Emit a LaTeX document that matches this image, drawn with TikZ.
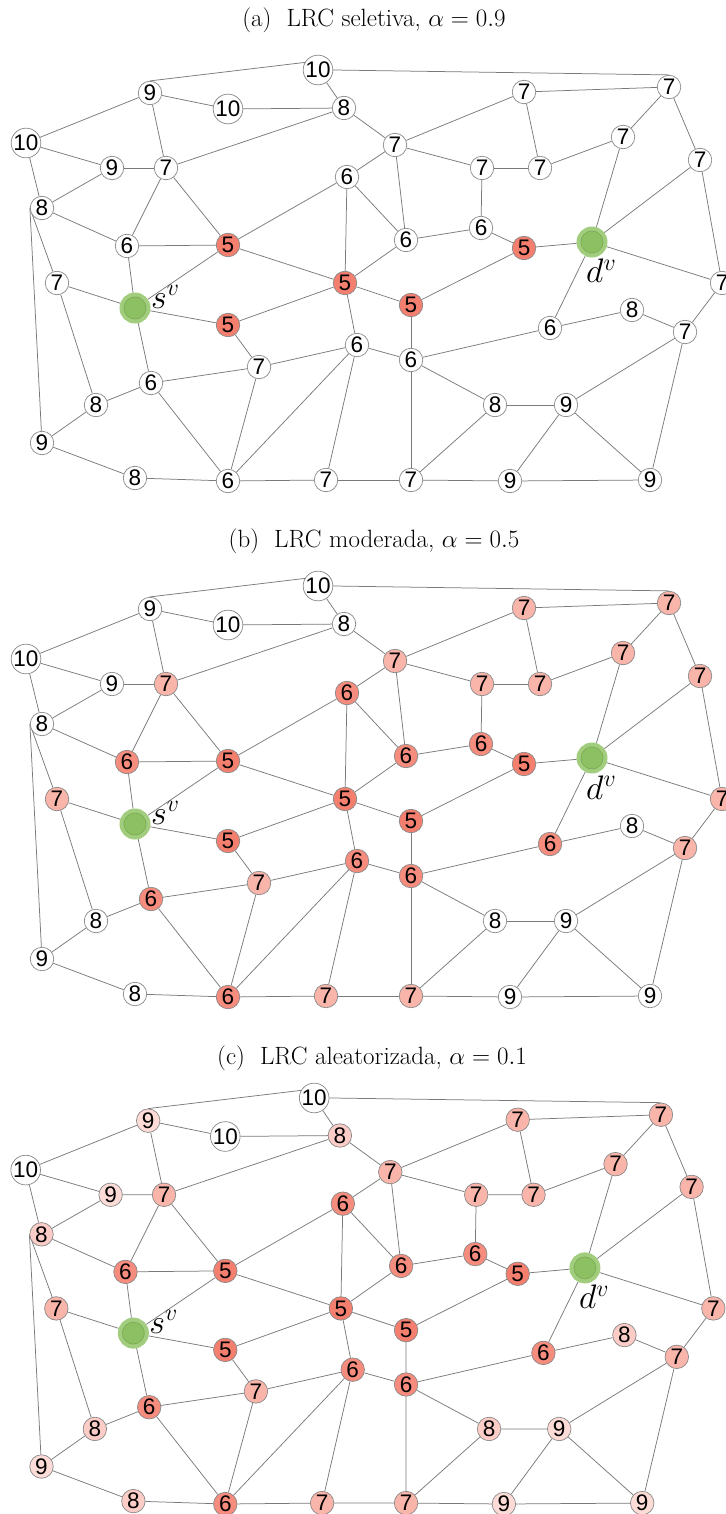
\RequirePackage{fix-cm}
\documentclass[tikz,border=0pt]{standalone}
\usepackage{fontspec}
\newfontfamily\digitfont{Liberation Sans}
\usetikzlibrary{backgrounds}
\definecolor{edgegray}{HTML}{7A7A7A}
\definecolor{bordergray}{HTML}{888888}
\definecolor{cfive}{HTML}{F47F6F}
\definecolor{csix}{HTML}{F68C7D}
\definecolor{cseven}{HTML}{FAB5AB}
\definecolor{ceight}{HTML}{FCCDC6}
\definecolor{cnine}{HTML}{FDDCD7}
\definecolor{grn}{HTML}{8DC063}
\definecolor{grnlight}{HTML}{A2CD7E}
\definecolor{grndark}{HTML}{78AA52}
\tikzset{
  vnode/.style={circle, draw=bordergray, line width=0.7pt, fill=white, minimum size=23.5pt, inner sep=0pt, font=\digitfont\fontsize{22.5}{22.5}\selectfont},
  lnk/.style={draw=edgegray, line width=0.75pt},
  endpt/.style={circle, fill=grn, draw=grnlight, line width=4pt, minimum size=27pt, inner sep=0pt},
  endlabel/.style={anchor=base west, inner sep=0pt, font=\fontsize{34}{36}\selectfont},
  titlelabel/.style={anchor=base, inner sep=0pt, font=\fontsize{25}{30}\selectfont},
  vfive/.style={}, vsix/.style={}, vseven/.style={}, veight/.style={}, vnine/.style={}, vten/.style={}
}
\newcommand\drawgraph[1]{%
  \node[vnode,vten] (#1A) at (318,70) {10};
  \node[vnode,vnine] (#1B) at (150,93) {9};
  \node[vnode,vten] (#1C) at (228,109) {10};
  \node[vnode,veight] (#1D) at (344,108) {8};
  \node[vnode,vten] (#1E) at (26,143) {10};
  \node[vnode,vnine] (#1F) at (112,168) {9};
  \node[vnode,vseven] (#1G) at (166,168) {7};
  \node[vnode,vsix] (#1H) at (347,177) {6};
  \node[vnode,veight] (#1I) at (42,208) {8};
  \node[vnode,vsix] (#1J) at (127,246) {6};
  \node[vnode,vfive] (#1K) at (228,245) {5};
  \node[vnode,vseven] (#1L) at (524,92) {7};
  \node[vnode,vseven] (#1M) at (669,87) {7};
  \node[vnode,vseven] (#1N) at (395,145) {7};
  \node[vnode,vseven] (#1O) at (623,137) {7};
  \node[vnode,vseven] (#1P) at (700,160) {7};
  \node[vnode,vseven] (#1Q) at (482,168) {7};
  \node[vnode,vseven] (#1R) at (540,168) {7};
  \node[vnode,vsix] (#1S) at (406,240) {6};
  \node[vnode,vsix] (#1T) at (481,228) {6};
  \node[vnode,vfive] (#1U) at (524,248) {5};
  \node[vnode,vseven] (#1V) at (57,283) {7};
  \node[vnode,vfive] (#1W) at (345,283) {5};
  \node[vnode,vfive] (#1X) at (228,325) {5};
  \node[vnode,vfive] (#1Y) at (411,305) {5};
  \node[vnode,vseven] (#1Z) at (722,283) {7};
  \node[vnode,veight] (#1AA) at (632,310) {8};
  \node[vnode,vsix] (#1AB) at (550,328) {6};
  \node[vnode,vseven] (#1AC) at (685,332) {7};
  \node[vnode,vsix] (#1AD) at (357,345) {6};
  \node[vnode,vseven] (#1AE) at (259,367) {7};
  \node[vnode,vsix] (#1AF) at (151,383) {6};
  \node[vnode,vsix] (#1AG) at (411,360) {6};
  \node[vnode,veight] (#1AH) at (96,405) {8};
  \node[vnode,veight] (#1AI) at (495,405) {8};
  \node[vnode,vnine] (#1AJ) at (566,405) {9};
  \node[vnode,vnine] (#1AK) at (42,443) {9};
  \node[vnode,veight] (#1AL) at (135,478) {8};
  \node[vnode,vsix] (#1AM) at (228,481) {6};
  \node[vnode,vseven] (#1AN) at (326,480) {7};
  \node[vnode,vseven] (#1AO) at (411,480) {7};
  \node[vnode,vnine] (#1AP) at (510,481) {9};
  \node[vnode,vnine] (#1AQ) at (650,480) {9};
  \node[endpt] (#1SV) at (135,308) {};
  \node[endpt] (#1DV) at (592,242) {};
  \draw[grndark, line width=0.5pt] (#1SV.center) circle[radius=11pt];
  \draw[grndark, line width=0.5pt] (#1DV.center) circle[radius=11pt];
  \begin{pgfonlayer}{background}
    \draw[lnk] (#1A.east) -- (#1M.north);
    \draw[lnk] (#1B.north) -- (#1A.150);
    \draw[lnk] (#1I.west) -- (#1V);
    \draw[lnk] (#1I.west) -- (#1AK);
    \foreach \u/\v in {A/D,B/C,B/E,B/G,C/D,E/F,E/I,F/G,F/I,G/D,G/J,G/K,I/J,J/K,J/SV,K/H,K/W,K/SV,
      D/N,H/N,H/S,H/W,N/L,N/Q,N/S,L/M,L/R,Q/R,Q/T,R/O,O/M,O/DV,M/P,P/DV,P/Z,S/T,S/W,T/U,U/DV,U/Y,
      DV/Z,DV/AB,V/SV,V/AH,SV/X,SV/AF,X/W,X/AE,W/Y,W/AD,AD/AE,AD/AM,AD/AN,AD/AG,AE/AF,AE/AM,
      AF/AH,AF/AM,AH/AK,AK/AL,AL/AM,AM/AN,AN/AO,Y/AG,AG/AB,AG/AI,AG/AO,AO/AI,AO/AP,AP/AQ,AP/AJ,
      AI/AJ,AJ/AQ,AJ/AC,AC/AQ,AC/AA,AC/Z,AA/AB}
      \draw[lnk] (#1\u) -- (#1\v);
  \end{pgfonlayer}
  \node[endlabel] (#1SVl) at (151,308) {$s^v$};
  \node[endlabel] (#1DVl) at (586,283) {$d^v$};
}
\begin{document}
\begin{tikzpicture}[x=1pt,y=-1pt]
\useasboundingbox (0,0) rectangle (725,1514);
\node[titlelabel] (ta) at (374,27) {(a)\hspace{0.6em}LRC seletiva, $\alpha = 0.9$};
\node[titlelabel] (tb) at (374,547) {(b)\hspace{0.6em}LRC moderada, $\alpha = 0.5$};
\node[titlelabel] (tc) at (372,1064) {(c)\hspace{0.6em}LRC aleatorizada, $\alpha = 0.1$};
\begin{scope}[vfive/.style={fill=cfive}]
  \drawgraph{a}
\end{scope}
\begin{scope}[shift={(0,516)}, vfive/.style={fill=cfive}, vsix/.style={fill=csix}, vseven/.style={fill=cseven}]
  \drawgraph{b}
\end{scope}
\begin{scope}[shift={(0,1028.8)}, scale=0.988, vfive/.style={fill=cfive}, vsix/.style={fill=csix}, vseven/.style={fill=cseven}, veight/.style={fill=ceight}, vnine/.style={fill=cnine}]
  \drawgraph{c}
\end{scope}
\end{tikzpicture}
\end{document}
